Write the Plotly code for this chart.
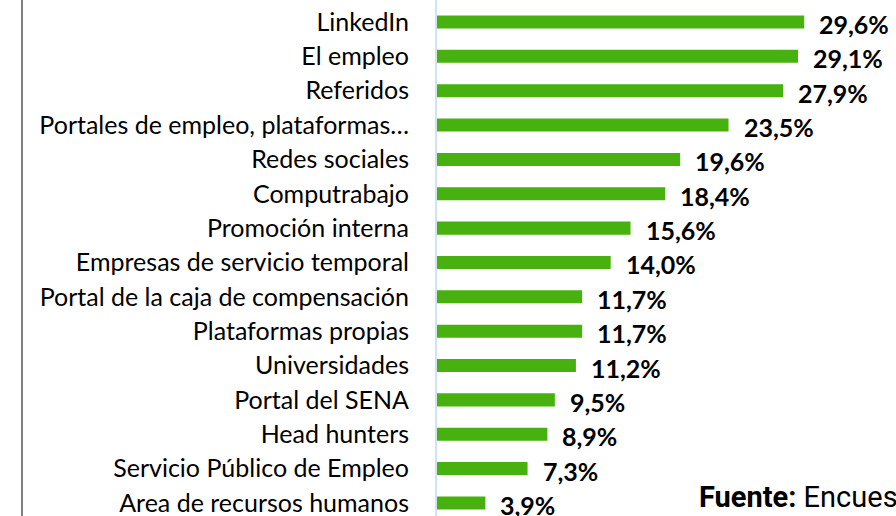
import plotly.graph_objects as go

categorias = ["LinkedIn", "El empleo", "Referidos", "Portales de empleo, plataformas…",
              "Redes sociales", "Computrabajo", "Promoción interna",
              "Empresas de servicio temporal", "Portal de la caja de compensación",
              "Plataformas propias", "Universidades", "Portal del SENA",
              "Head hunters", "Servicio Público de Empleo", "Area de recursos humanos"]
valores = [29.6, 29.1, 27.9, 23.5, 19.6, 18.4, 15.6, 14.0, 11.7, 11.7, 11.2, 9.5, 8.9, 7.3, 3.9]
etiquetas = [f"{v:.1f}%".replace(".", ",") for v in valores]

verde = "#47B20F"

fig = go.Figure()
fig.add_trace(go.Bar(
    x=valores, y=categorias, orientation="h",
    marker=dict(color=verde, line=dict(width=0)),
    width=0.38, hoverinfo="skip"
))

# etiquetas de valor
for c, v, t in zip(categorias, valores, etiquetas):
    fig.add_annotation(x=v, y=c, text="<b>" + t + "</b>", showarrow=False,
                       xanchor="left", xshift=13, yshift=-2,
                       font=dict(family="Lato", size=25, color="black"))

fig.add_annotation(xref="paper", yref="paper", x=(697 - 437) / 459, y=0.0,
                   xanchor="left", yanchor="bottom", showarrow=False,
                   text="<b>Fuente:</b> Encuesta",
                   font=dict(family="Roboto", size=29, color="black"))

# linea del borde izquierdo
fig.add_shape(type="line", xref="paper", yref="paper",
              x0=(22 - 437) / 459, x1=(22 - 437) / 459, y0=0, y1=1,
              line=dict(color="black", width=1))

fig.update_layout(
    width=896, height=516,
    margin=dict(l=437, r=0, t=0, b=0),
    plot_bgcolor="white", paper_bgcolor="white",
    showlegend=False,
    xaxis=dict(range=[0, 37.0], visible=False),
    yaxis=dict(range=[14.38, -0.64], showline=True, linecolor="#cfe3f5", linewidth=2,
               ticks="outside", ticklen=21, tickcolor="rgba(0,0,0,0)",
               tickfont=dict(family="Lato", size=25, color="black"),
               showgrid=False, zeroline=False),
)

fig.write_html("out.html", config={"displayModeBar": False},
               post_script="document.body.style.margin='0px';")
